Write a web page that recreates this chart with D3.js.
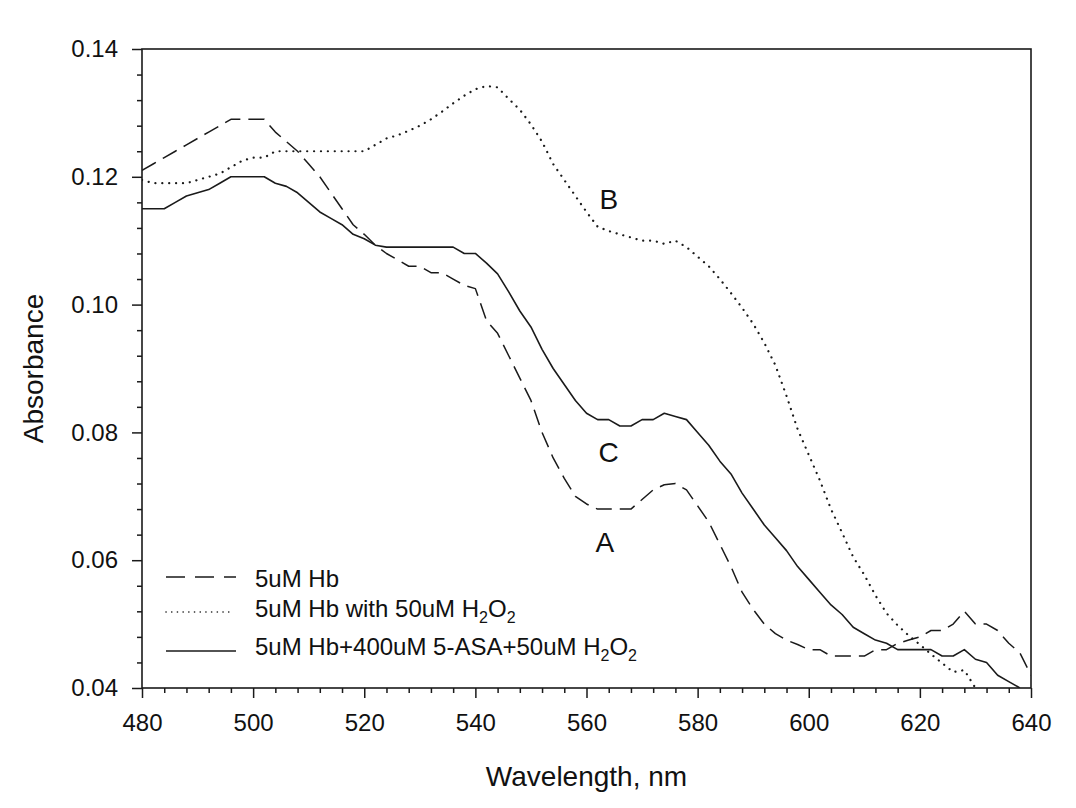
<!DOCTYPE html>
<html><head><meta charset="utf-8">
<script src="https://cdn.jsdelivr.net/npm/d3@7"></script>
<style>
body{margin:0;background:#fff}
svg{display:block}
text{font-family:Arial,"Liberation Sans",sans-serif;fill:#111}
</style>
</head><body>
<svg id="chart" width="1076" height="808"></svg>
<script>
const wavelengths = [480,482,484,486,488,490,492,494,496,498,500,502,504,506,508,510,512,514,516,518,520,522,524,526,528,530,532,534,536,538,540,542,544,546,548,550,552,554,556,558,560,562,564,566,568,570,572,574,576,578,580,582,584,586,588,590,592,594,596,598,600,602,604,606,608,610,612,614,616,618,620,622,624,626,628,630,632,634,636,638,640];

// A: 5uM Hb (dashed)
const hb = [.121,.122,.123,.124,.125,.126,.127,.128,.129,.129,.129,.129,.127,.1255,.124,.122,.120,.1175,.115,.1125,.111,.1093,.108,.107,.106,.106,.105,.105,.104,.103,.1025,.0975,.0955,.092,.0885,.085,.080,.076,.0728,.070,.0688,.068,.068,.068,.068,.0695,.071,.0718,.072,.071,.0685,.066,.0625,.059,.055,.0523,.050,.0485,.0475,.0468,.046,.046,.045,.045,.045,.045,.046,.046,.047,.0475,.048,.049,.049,.050,.052,.050,.050,.049,.047,.0455,.042];

// B: 5uM Hb with 50uM H2O2 (dotted)
const hbH2O2 = [.1195,.119,.119,.119,.119,.1195,.120,.1205,.1215,.1225,.123,.123,.124,.124,.124,.124,.124,.124,.124,.124,.124,.125,.126,.1265,.1272,.128,.129,.1302,.1315,.1327,.1337,.1342,.134,.1322,.1305,.1282,.1255,.122,.1195,.117,.1145,.1122,.1115,.111,.1105,.110,.110,.1095,.110,.109,.1075,.106,.104,.1018,.0995,.097,.094,.0905,.0857,.0805,.0765,.0725,.068,.0643,.0605,.0577,.0545,.0517,.0498,.0482,.0468,.0453,.0439,.0425,.0428,.040,null,null,null,null,null];

// C: 5uM Hb+400uM 5-ASA+50uM H2O2 (solid)
const hbAsaH2O2 = [.115,.115,.115,.116,.117,.1175,.118,.119,.120,.120,.120,.120,.119,.1185,.1175,.116,.1145,.1135,.1125,.111,.1103,.1093,.109,.109,.109,.109,.109,.109,.109,.108,.108,.1065,.1048,.102,.099,.0965,.093,.090,.0875,.085,.083,.082,.082,.081,.081,.082,.082,.083,.0825,.082,.080,.078,.0755,.0735,.0705,.068,.0655,.0635,.0615,.059,.057,.055,.053,.0515,.0495,.0485,.0475,.047,.046,.046,.046,.046,.045,.045,.046,.0445,.044,.042,.041,.040,null];

const xMajorTicks = [480,500,520,540,560,580,600,620,640];
const yMajorTicks = [0.04,0.06,0.08,0.10,0.12,0.14];
const yTickLabels = ["0.04","0.06","0.08","0.10","0.12","0.14"];
const seriesNames = ["5uM Hb","5uM Hb with 50uM H\u2082O\u2082","5uM Hb+400uM 5-ASA+50uM H\u2082O\u2082"];
const curveLabels = ["A","B","C"];

const svg = d3.select("#chart");
const M = {left:142, right:1031, top:49, bottom:688};
const x = d3.scaleLinear().domain([480,640]).range([M.left, M.right]);
const y = d3.scaleLinear().domain([0.04,0.14]).range([M.bottom, M.top]);
const ink = "#1a1a1a";

svg.append("defs").append("clipPath").attr("id","plotclip")
  .append("rect").attr("x",M.left).attr("y",M.top-2).attr("width",M.right-M.left).attr("height",M.bottom-M.top+2);

// minor ticks
const xMinor = d3.range(480,641,4).filter(v => v % 20 !== 0);
const yMinor = d3.range(40,141,4).map(v=>v/1000).filter(v => Math.round(v*1000) % 20 !== 0);

const gx = svg.append("g").attr("transform",`translate(0,${M.bottom})`)
  .call(d3.axisBottom(x).tickValues(xMajorTicks).tickSize(10).tickPadding(15).tickFormat(d3.format("d")));
const gxm = svg.append("g").attr("transform",`translate(0,${M.bottom})`)
  .call(d3.axisBottom(x).tickValues(xMinor).tickSize(5).tickFormat(""));
const gy = svg.append("g").attr("transform",`translate(${M.left},0)`)
  .call(d3.axisLeft(y).tickValues(yMajorTicks).tickSize(10).tickPadding(14).tickFormat((d,i)=>yTickLabels[i]));
const gym = svg.append("g").attr("transform",`translate(${M.left},0)`)
  .call(d3.axisLeft(y).tickValues(yMinor).tickSize(5).tickFormat(""));

[gx,gxm,gy,gym].forEach(g=>{
  g.select(".domain").remove();
  g.selectAll("line").attr("stroke",ink).attr("stroke-width",1.5);
  g.selectAll("text").attr("font-size",24).attr("fill","#111").attr("font-family",'Arial,"Liberation Sans",sans-serif');
});
gx.selectAll("text").attr("dy","0.74em");

// frame
svg.append("rect").attr("x",M.left).attr("y",M.top).attr("width",M.right-M.left).attr("height",M.bottom-M.top)
  .attr("fill","none").attr("stroke",ink).attr("stroke-width",1.6);

// lines
const styles = [
  {data:hb, dash:"16,8", width:1.5, cap:"butt"},
  {data:hbH2O2, dash:"0.1,6.8", width:2.2, cap:"round"},
  {data:hbAsaH2O2, dash:null, width:1.6, cap:"butt"}
];
const line = d3.line().defined(d=>d[1]!==null).x(d=>x(d[0])).y(d=>y(d[1]));
const gLines = svg.append("g").attr("clip-path","url(#plotclip)");
styles.forEach(s=>{
  const pts = wavelengths.map((w,i)=>[w,s.data[i]]);
  gLines.append("path").attr("d",line(pts)).attr("fill","none").attr("stroke",ink)
    .attr("stroke-width",s.width).attr("stroke-dasharray",s.dash).attr("stroke-linecap",s.cap)
    .attr("stroke-linejoin","round");
});

// curve letters
const letterPos = [[563.3,0.0613],[564,0.115],[564,0.0753]]; // A,B,C  (wavelength, absorbance at text baseline)
curveLabels.forEach((t,i)=>{
  svg.append("text").attr("x",x(letterPos[i][0])).attr("y",y(letterPos[i][1]))
    .attr("text-anchor","middle").attr("font-size",28).text(t);
});

// legend
const legRows = [{ly:577, ty:587},{ly:612, ty:617},{ly:651, ty:655}];
const lg = svg.append("g");
styles.forEach((s,i)=>{
  lg.append("line").attr("x1",166).attr("x2",s.dash && s.cap==="round" ? 232 : 236)
    .attr("y1",legRows[i].ly).attr("y2",legRows[i].ly)
    .attr("stroke",ink).attr("stroke-width", s.cap==="round"?1.6:s.width)
    .attr("stroke-dasharray", i===0 ? "19,10" : (i===1 ? "0.1,5.6" : null))
    .attr("stroke-linecap", s.cap);
  const t = lg.append("text").attr("x",255).attr("y",legRows[i].ty).attr("font-size",24);
  if(i===0){ t.text(seriesNames[0]); }
  else {
    const base = i===1 ? "5uM Hb with 50uM H" : "5uM Hb+400uM 5-ASA+50uM H";
    t.append("tspan").text(base);
    t.append("tspan").attr("font-size",16).attr("dy",6).text("2");
    t.append("tspan").attr("dy",-6).text("O");
    t.append("tspan").attr("font-size",16).attr("dy",6).text("2");
  }
});

// axis titles
svg.append("text").attr("x",(M.left+M.right)/2).attr("y",786).attr("text-anchor","middle")
  .attr("font-size",28).text("Wavelength, nm");
svg.append("text").attr("transform",`translate(43,${(M.top+M.bottom)/2}) rotate(-90)`)
  .attr("text-anchor","middle").attr("font-size",28).text("Absorbance");
</script>
</body></html>
